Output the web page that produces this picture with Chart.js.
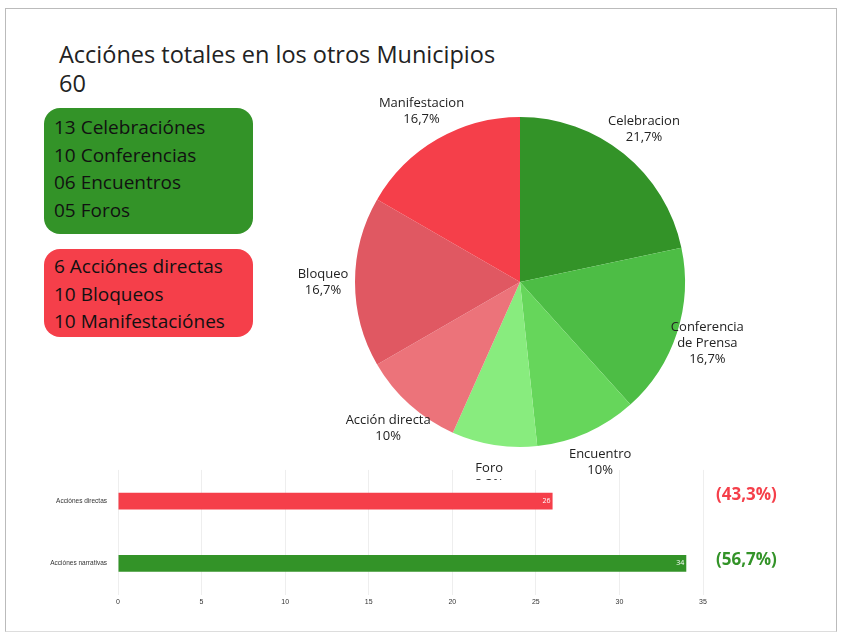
<!DOCTYPE html>
<html><head><meta charset="utf-8">
<script src="https://cdn.jsdelivr.net/npm/chart.js@4"></script>
<style>
body{margin:0;background:#fff;font-family:"Open Sans",sans-serif;}
#page{position:absolute;left:5px;top:8px;width:830px;height:622px;border:1px solid #bbb;border-bottom:1px solid #ddd;}
.t{position:absolute;color:#222;}
.box{position:absolute;border-radius:16px;font-size:19px;line-height:27.5px;padding:6px 10px;color:#111;white-space:nowrap;}
</style></head><body>
<div id="page"></div>
<div class="t" style="left:59px;top:40px;font-size:23.5px;line-height:29px;">Acciónes totales en los otros Municipios<br>60</div>
<div class="box" style="left:44px;top:108px;width:189px;height:114px;background:#339328;">13 Celebraciónes<br>10 Conferencias<br>06 Encuentros<br>05 Foros</div>
<div class="box" style="left:44px;top:249px;width:189px;height:78px;background:#f53f4a;padding-top:4px;">6 Acciónes directas<br>10 Bloqueos<br>10 Manifestaciónes</div>
<div style="position:absolute;left:270px;top:90px;width:500px;height:390px;"><canvas id="pie"></canvas></div>
<div style="position:absolute;left:30px;top:463px;width:690px;height:146px;"><canvas id="bar"></canvas></div>
<div class="t" style="left:716px;top:482px;font-size:17px;font-weight:bold;color:#f53f4a;">(43,3%)</div>
<div class="t" style="left:716px;top:547px;font-size:17px;font-weight:bold;color:#339328;">(56,7%)</div>
<script>
var pieLabels = ["Celebracion", "Conferencia\nde Prensa", "Encuentro", "Foro", "Acción directa", "Bloqueo", "Manifestacion"];
var pieValues = [13, 10, 6, 5, 6, 10, 10];
var pieColors = ["#339328", "#4dbd45", "#66d65b", "#88ec7e", "#ec737a", "#e05862", "#f53f4a"];
var piePercents = ["21,7%", "16,7%", "10%", "8,3%", "10%", "16,7%", "16,7%"];
var barLabels = ["Acciónes directas", "Acciónes narrativas"];
var barValues = [26, 34];
var barColors = ["#f53f4a", "#339328"];

var outLabels = {
  id: 'outLabels',
  afterDraw: function (chart) {
    var ctx = chart.ctx;
    chart.getDatasetMeta(0).data.forEach(function (arc, i) {
      var a = (arc.startAngle + arc.endAngle) / 2;
      var r = arc.outerRadius + 32;
      var x = arc.x + Math.cos(a) * r, y = arc.y + Math.sin(a) * r;
      var lines = pieLabels[i].split("\n").concat([piePercents[i]]);
      ctx.save();
      ctx.font = "13px 'Open Sans', sans-serif";
      ctx.fillStyle = "#222";
      ctx.textAlign = "center";
      ctx.textBaseline = "middle";
      var y0 = y - (lines.length - 1) * 8;
      lines.forEach(function (l, k) { ctx.fillText(l, x, y0 + k * 16); });
      ctx.restore();
    });
  }
};

new Chart(document.getElementById('pie'), {
  type: 'pie',
  data: { labels: pieLabels, datasets: [{ data: pieValues, backgroundColor: pieColors, borderWidth: 0 }] },
  options: {
    responsive: true, maintainAspectRatio: false, animation: false,
    layout: { padding: { left: 0, right: 0, top: 27, bottom: 33 } },
    plugins: { legend: { display: false }, tooltip: { enabled: false } }
  },
  plugins: [outLabels]
});

var barValuesPlugin = {
  id: 'barValues',
  afterDatasetsDraw: function (chart) {
    var ctx = chart.ctx;
    chart.getDatasetMeta(0).data.forEach(function (bar, i) {
      ctx.save();
      ctx.font = "7px 'Open Sans', sans-serif";
      ctx.fillStyle = "#fff";
      ctx.textAlign = "right";
      ctx.textBaseline = "middle";
      ctx.fillText(barValues[i], bar.x - 2, bar.y);
      ctx.restore();
    });
  }
};

new Chart(document.getElementById('bar'), {
  type: 'bar',
  data: { labels: barLabels, datasets: [{ data: barValues, backgroundColor: barColors, barPercentage: 0.27, categoryPercentage: 1 }] },
  options: {
    indexAxis: 'y', responsive: true, maintainAspectRatio: false, animation: false,
    layout: { padding: { right: 17 } },
    plugins: { legend: { display: false }, tooltip: { enabled: false } },
    scales: {
      x: { min: 0, max: 35, ticks: { stepSize: 5, font: { size: 7 }, color: "#333" }, grid: { color: "#eee", drawTicks: false }, border: { display: false } },
      y: { afterFit: function (s) { s.width = 88; }, ticks: { font: { size: 6.5 }, color: "#333" }, grid: { display: false }, border: { display: false } }
    }
  },
  plugins: [barValuesPlugin]
});
</script>
</body></html>
